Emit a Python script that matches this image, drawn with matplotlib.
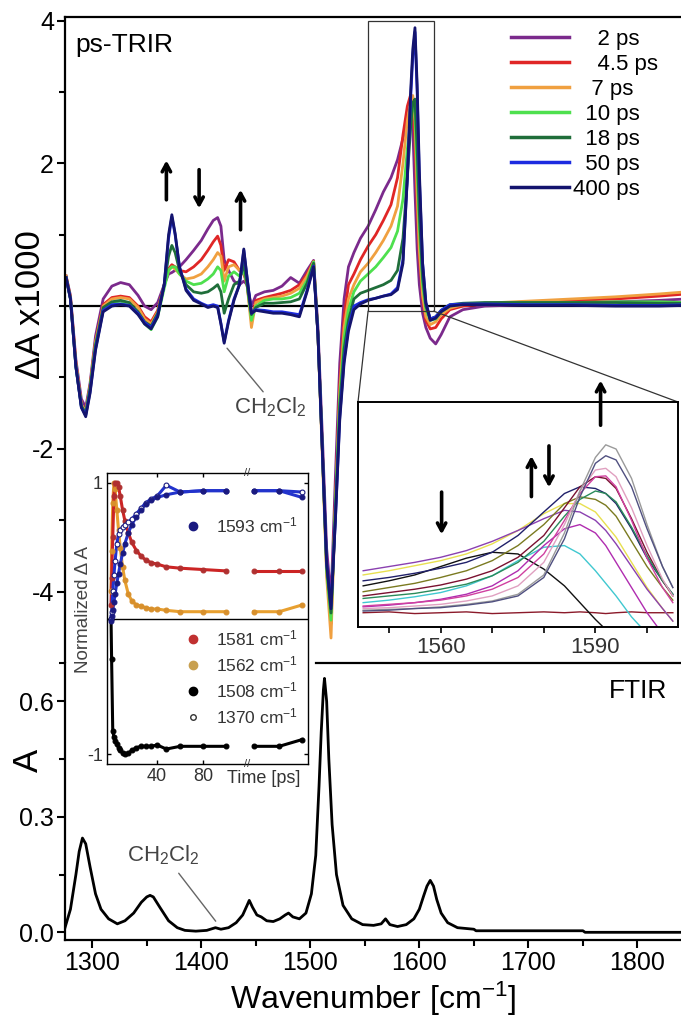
import numpy as np
import matplotlib
matplotlib.use("Agg")
import matplotlib.pyplot as plt
from matplotlib.lines import Line2D
from matplotlib.patches import Rectangle, ConnectionPatch
from matplotlib.ticker import FixedLocator, MultipleLocator
import matplotlib.transforms as mtransforms

plt.rcParams["font.family"] = ["Liberation Sans", "DejaVu Sans"]
plt.rcParams["mathtext.fontset"] = "custom"
plt.rcParams["mathtext.rm"] = "Liberation Sans"
plt.rcParams["mathtext.it"] = "Liberation Sans:italic"
plt.rcParams["mathtext.bf"] = "Liberation Sans:bold"
plt.rcParams["axes.unicode_minus"] = False

# ---- ps-TRIR spectra (Delta A x1000) ----
TRIR_WN = [1276, 1280, 1285, 1290, 1294, 1298, 1303, 1310, 1318, 1326, 1334, 1342, 1348, 1354, 1360, 1366,
           1370, 1373, 1376, 1380, 1386, 1393, 1400, 1406, 1411, 1415, 1418, 1421, 1425, 1430, 1435, 1439, 1442, 1446, 1450,
           1458, 1466, 1474, 1482, 1490, 1497, 1503,
           1507, 1511, 1515, 1519, 1523, 1527, 1531, 1535,
           1540, 1546, 1553, 1560, 1567, 1574, 1580, 1585,
           1589, 1592, 1594, 1596, 1598, 1600, 1603, 1606, 1610, 1615, 1620, 1628, 1640, 1660, 1700, 1740, 1780, 1820, 1845]

TRIR_2PS = [0.42, 0.15, -0.75, -1.30, -1.42, -1.08, -0.42, 0.10, 0.28, 0.33, 0.30, 0.15, 0.00, -0.05, 0.05, 0.30,
            0.45, 0.47, 0.50, 0.55, 0.65, 0.78, 0.92, 1.08, 1.20, 1.24, 1.12, 0.65, 0.50, 0.35, 0.30, 0.35, 0.30, 0.00, 0.15,
            0.20, 0.22, 0.28, 0.40, 0.32, 0.50, 0.64,
            -0.30, -1.80, -3.40, -4.10, -2.40, -0.80, 0.10, 0.55,
            0.75, 0.95, 1.12, 1.35, 1.60, 1.80, 2.05, 2.35,
            2.60, 2.78, 2.50, 1.60, 0.80, 0.30, -0.10, -0.30, -0.45, -0.53, -0.40, -0.15, -0.05, 0.00, 0.02, 0.04, 0.06, 0.08, 0.10]
TRIR_4P5PS = [0.42, 0.12, -0.80, -1.38, -1.48, -1.12, -0.50, 0.02, 0.12, 0.14, 0.12, 0.00, -0.15, -0.22, -0.06, 0.30,
              0.52, 0.58, 0.55, 0.50, 0.48, 0.55, 0.65, 0.78, 0.90, 0.98, 0.85, 0.50, 0.65, 0.62, 0.50, 0.45, 0.30, -0.20, 0.08,
              0.12, 0.15, 0.18, 0.22, 0.30, 0.45, 0.63,
              -0.40, -2.00, -3.70, -4.45, -2.70, -1.10, -0.15, 0.30,
              0.45, 0.65, 0.84, 1.00, 1.20, 1.42, 1.80, 2.40,
              2.80, 2.96, 2.90, 2.30, 1.40, 0.70, 0.10, -0.20, -0.32, -0.30, -0.18, -0.05, 0.00, 0.03, 0.06, 0.08, 0.10, 0.14, 0.17]
TRIR_7PS = [0.42, 0.12, -0.80, -1.38, -1.48, -1.12, -0.50, 0.00, 0.10, 0.12, 0.10, -0.02, -0.18, -0.25, -0.08, 0.30,
            0.50, 0.55, 0.52, 0.45, 0.38, 0.40, 0.45, 0.55, 0.65, 0.75, 0.70, 0.35, 0.55, 0.58, 0.50, 0.50, 0.30, -0.30, 0.05,
            0.10, 0.12, 0.14, 0.18, 0.25, 0.42, 0.62,
            -0.40, -2.10, -3.80, -4.65, -2.80, -1.20, -0.30, 0.10,
            0.30, 0.48, 0.60, 0.75, 0.92, 1.12, 1.40, 2.00,
            2.60, 2.85, 2.95, 2.60, 1.60, 0.80, 0.15, -0.15, -0.26, -0.22, -0.12, -0.03, 0.02, 0.04, 0.07, 0.10, 0.13, 0.17, 0.20]
TRIR_10PS = [0.40, 0.10, -0.85, -1.40, -1.50, -1.15, -0.55, -0.05, 0.05, 0.07, 0.02, -0.10, -0.25, -0.33, -0.15, 0.25,
             0.50, 0.55, 0.55, 0.45, 0.35, 0.30, 0.32, 0.38, 0.45, 0.55, 0.50, 0.20, 0.42, 0.48, 0.42, 0.50, 0.30, -0.20, 0.00,
             0.08, 0.10, 0.10, 0.12, 0.18, 0.36, 0.62,
             -0.40, -2.00, -3.70, -4.40, -2.80, -1.30, -0.45, -0.05,
             0.20, 0.35, 0.45, 0.55, 0.68, 0.82, 1.05, 1.50,
             2.20, 2.60, 2.85, 2.70, 1.90, 1.10, 0.30, -0.05, -0.20, -0.18, -0.08, 0.00, 0.03, 0.04, 0.05, 0.05, 0.06, 0.06, 0.05]
TRIR_18PS = [0.40, 0.10, -0.85, -1.40, -1.50, -1.15, -0.55, -0.02, 0.06, 0.08, 0.05, -0.08, -0.22, -0.28, -0.10, 0.30,
             0.70, 0.85, 0.75, 0.50, 0.30, 0.20, 0.18, 0.20, 0.25, 0.30, 0.20, -0.10, 0.10, 0.30, 0.35, 0.60, 0.30, -0.12, -0.02,
             0.04, 0.04, 0.05, 0.06, 0.10, 0.32, 0.60,
             -0.40, -2.00, -3.65, -4.30, -2.90, -1.40, -0.60, -0.20,
             0.10, 0.18, 0.22, 0.26, 0.30, 0.36, 0.50, 0.95,
             1.80, 2.50, 2.85, 2.90, 2.20, 1.30, 0.40, 0.00, -0.18, -0.15, -0.06, 0.02, 0.04, 0.05, 0.05, 0.05, 0.05, 0.04, 0.04]
TRIR_50PS = [0.40, 0.10, -0.85, -1.42, -1.53, -1.20, -0.60, -0.06, 0.02, 0.03, 0.01, -0.10, -0.23, -0.30, -0.13, 0.30,
             0.95, 1.25, 1.00, 0.55, 0.24, 0.10, 0.04, 0.00, 0.02, 0.00, -0.24, -0.50, -0.20, 0.10, 0.30, 0.78, 0.40, -0.10, -0.05,
             -0.06, -0.08, -0.08, -0.10, -0.12, 0.22, 0.56,
             -0.40, -2.00, -3.60, -4.20, -3.00, -1.55, -0.75, -0.30,
             0.00, 0.05, 0.09, 0.11, 0.14, 0.17, 0.26, 0.65,
             1.80, 2.90, 3.50, 3.84, 3.00, 1.80, 0.60, 0.05, -0.18, -0.15, -0.06, 0.02, 0.03, 0.03, 0.02, 0.02, 0.01, 0.01, 0.02]
TRIR_400PS = [0.40, 0.10, -0.85, -1.42, -1.55, -1.22, -0.62, -0.08, 0.00, 0.02, 0.00, -0.12, -0.25, -0.32, -0.15, 0.30,
              1.00, 1.28, 1.02, 0.55, 0.22, 0.08, 0.03, -0.02, 0.00, -0.02, -0.25, -0.52, -0.22, 0.08, 0.30, 0.80, 0.40, -0.10, -0.06,
              -0.08, -0.10, -0.10, -0.12, -0.15, 0.20, 0.55,
              -0.40, -2.00, -3.60, -4.24, -3.00, -1.60, -0.80, -0.35,
              -0.05, 0.03, 0.08, 0.11, 0.14, 0.16, 0.23, 0.60,
              1.80, 3.00, 3.60, 3.90, 3.10, 1.90, 0.60, 0.05, -0.20, -0.17, -0.08, 0.00, 0.02, 0.02, 0.01, 0.01, 0.00, 0.00, 0.01]

TRIR_LABELS = ["    2 ps", "    4.5 ps", "   7 ps", "  10 ps", "  18 ps", "  50 ps", "400 ps"]
TRIR_COLORS = ["#7b2a8c", "#e02626", "#f0a040", "#4ee04e", "#1f6e3a", "#1c2be0", "#14146e"]

# ---- FTIR absorbance ----
FTIR_WN = [1275, 1280, 1285, 1288, 1291, 1294, 1298, 1303, 1308, 1315,
           1323, 1330, 1338, 1345, 1350, 1353, 1356, 1362, 1370, 1378,
           1385, 1395, 1405, 1413, 1418, 1425, 1432, 1438, 1442, 1444,
           1447, 1451, 1455, 1460, 1466, 1472, 1477, 1480, 1484, 1490,
           1496, 1501, 1505, 1508, 1510, 1512, 1513, 1515, 1517, 1520,
           1524, 1530, 1538, 1548, 1558, 1565, 1569, 1573, 1580, 1588,
           1595, 1600, 1604, 1607, 1610, 1613, 1616, 1620, 1626, 1635,
           1650, 1652, 1700, 1750, 1752, 1845]
FTIR_A = [0.012, 0.06, 0.15, 0.21, 0.245, 0.23, 0.17, 0.10, 0.06, 0.035,
          0.022, 0.03, 0.05, 0.078, 0.092, 0.096, 0.092, 0.065, 0.03, 0.012,
          0.005, 0.003, 0.005, 0.012, 0.008, 0.012, 0.025, 0.045, 0.07, 0.083,
          0.065, 0.045, 0.04, 0.03, 0.028, 0.035, 0.045, 0.05, 0.04, 0.035,
          0.05, 0.10, 0.20, 0.38, 0.52, 0.63, 0.66, 0.60, 0.45, 0.28,
          0.15, 0.07, 0.035, 0.02, 0.018, 0.022, 0.035, 0.02, 0.015, 0.02,
          0.035, 0.06, 0.095, 0.12, 0.135, 0.12, 0.085, 0.05, 0.025, 0.012,
          0.008, 0.004, 0.004, 0.004, 0.0, 0.0]

# ---- zoomed spectra (1545-1605 cm-1) ----
ZOOM_WN = [1545, 1550, 1555, 1560, 1565, 1570, 1575, 1580, 1584, 1587, 1590, 1592, 1594, 1597, 1600, 1603, 1605]
ZOOM_BLACK = [0.32, 0.38, 0.45, 0.55, 0.65, 0.72, 0.70, 0.52, 0.32, 0.12, -0.08, -0.20, -0.30, -0.30, -0.30, -0.30, -0.30]
ZOOM_CYAN = [0.12, 0.15, 0.19, 0.24, 0.32, 0.44, 0.62, 0.78, 0.80, 0.70, 0.50, 0.35, 0.20, -0.05, -0.25, -0.30, -0.30]
ZOOM_MAGENTA = [0.07, 0.09, 0.12, 0.16, 0.22, 0.32, 0.50, 0.80, 1.00, 1.05, 0.95, 0.80, 0.60, 0.30, 0.00, -0.25, -0.30]
ZOOM_YELLOW = [0.45, 0.50, 0.56, 0.62, 0.70, 0.82, 0.98, 1.18, 1.30, 1.30, 1.20, 1.05, 0.90, 0.60, 0.30, 0.05, -0.10]
ZOOM_PURPLE = [0.50, 0.55, 0.60, 0.66, 0.74, 0.85, 0.98, 1.12, 1.22, 1.20, 1.10, 0.98, 0.82, 0.55, 0.28, 0.05, -0.10]
ZOOM_OLIVE = [0.25, 0.30, 0.35, 0.42, 0.50, 0.62, 0.80, 1.05, 1.30, 1.38, 1.35, 1.28, 1.15, 0.85, 0.55, 0.30, 0.15]
ZOOM_NAVY = [0.38, 0.42, 0.47, 0.53, 0.60, 0.72, 0.92, 1.20, 1.42, 1.50, 1.48, 1.42, 1.30, 1.00, 0.65, 0.38, 0.22]
ZOOM_MAROON = [0.20, 0.24, 0.28, 0.33, 0.40, 0.50, 0.66, 0.92, 1.25, 1.50, 1.62, 1.60, 1.48, 1.12, 0.72, 0.38, 0.20]
ZOOM_GREEN = [0.17, 0.20, 0.23, 0.28, 0.34, 0.44, 0.60, 0.85, 1.15, 1.35, 1.45, 1.42, 1.32, 1.02, 0.68, 0.38, 0.22]
ZOOM_PINK = [0.08, 0.10, 0.12, 0.15, 0.20, 0.28, 0.42, 0.70, 1.10, 1.42, 1.62, 1.63, 1.50, 1.10, 0.65, 0.30, 0.12]
ZOOM_ROSE = [0.05, 0.06, 0.08, 0.10, 0.14, 0.20, 0.32, 0.60, 1.05, 1.45, 1.70, 1.72, 1.62, 1.25, 0.80, 0.40, 0.20]
ZOOM_GRAY = [0.03, 0.04, 0.05, 0.07, 0.10, 0.14, 0.22, 0.45, 0.95, 1.45, 1.85, 2.00, 1.95, 1.60, 1.05, 0.55, 0.30]
ZOOM_SLATE = [0.02, 0.03, 0.05, 0.06, 0.09, 0.13, 0.20, 0.42, 0.88, 1.38, 1.78, 1.87, 1.82, 1.50, 1.00, 0.55, 0.30]
ZOOM_BASE = [0.00, 0.01, -0.01, 0.00, 0.01, -0.01, 0.00, 0.01, 0.00, 0.01, 0.00, -0.01, 0.00, 0.01, 0.00, 0.00, 0.00]

# ---- kinetics (normalized Delta A) ----
KIN_T = [0, 0.5, 1.5, 2.5, 3.5, 5, 6.5, 8, 10, 12, 15, 18, 22, 26, 30, 35, 40, 48, 60, 80, 100, 140, 250, 350]
KIN_1593 = [-0.02, 0.02, 0.06, 0.12, 0.18, 0.26, 0.33, 0.40, 0.48, 0.55, 0.63, 0.69, 0.75, 0.80, 0.84, 0.87,
            0.89, 0.91, 0.93, 0.94, 0.94, 0.94, 0.94, 0.89]
KIN_1370 = [0.0, 0.05, 0.20, 0.32, 0.42, 0.55, 0.62, 0.65, 0.67, 0.69, 0.71, 0.73, 0.77, 0.81, 0.85, 0.88,
            0.90, 0.98, 0.93, 0.94, 0.94, 0.94, 0.94, 0.93]
KIN_1581 = [0.1, 0.3, 0.6, 0.9, 1.0, 1.0, 0.97, 0.9, 0.8, 0.72, 0.63, 0.56, 0.5, 0.46, 0.43, 0.41,
            0.4, 0.38, 0.37, 0.36, 0.35, 0.35, 0.35, 0.35]
KIN_1562 = [0.2, 0.5, 0.85, 1.0, 0.95, 0.8, 0.65, 0.52, 0.38, 0.28, 0.18, 0.13, 0.1, 0.09, 0.08, 0.07,
            0.07, 0.06, 0.05, 0.05, 0.05, 0.05, 0.05, 0.1]
KIN_1508 = [0.0, -0.3, -0.83, -0.87, -0.9, -0.92, -0.95, -0.97, -0.99, -1.0, -0.99, -0.97, -0.95, -0.94, -0.94, -0.94,
            -0.93, -0.96, -0.94, -0.94, -0.94, -0.94, -0.94, -0.89]

W, H = 681, 1025


def box(x0, y0, x1, y1):
    # pixel box (top-left origin) -> figure-fraction rect
    return [x0 / W, 1 - y1 / H, (x1 - x0) / W, (y1 - y0) / H]


def t_fwd(t):
    t = np.asarray(t, dtype=float)
    return np.where(t <= 120, t, 120 + (t - 120) * 0.2)


def t_inv(d):
    d = np.asarray(d, dtype=float)
    return np.where(d <= 120, d, 120 + (d - 120) / 0.2)


fig = plt.figure(figsize=(W / 100, H / 100), dpi=100)
ax_top = fig.add_axes(box(65, 17, 681, 663))
ax_ft = fig.add_axes(box(65, 663, 681, 940), sharex=ax_top)
ax_kin = fig.add_axes(box(107, 473, 308, 764), zorder=5)
ax_zoom = fig.add_axes(box(358, 402, 678, 627), zorder=5)

# ---------------- top: ps-TRIR ----------------
ax_top.axhline(0, color="black", lw=1.6, zorder=1)
trir_series = [TRIR_2PS, TRIR_4P5PS, TRIR_7PS, TRIR_10PS, TRIR_18PS, TRIR_50PS, TRIR_400PS]
for vals, color in zip(trir_series, TRIR_COLORS):
    ax_top.plot(TRIR_WN, vals, color=color, lw=2.0, zorder=2)

ax_top.set_xlim(1275, 1840)
ax_top.set_ylim(-5, 4.05)
for side in ("right", "bottom"):
    ax_top.spines[side].set_visible(False)
for side in ("left", "top"):
    ax_top.spines[side].set_linewidth(1.6)
ax_top.yaxis.set_major_locator(FixedLocator([-4, -2, 2, 4]))
ax_top.yaxis.set_minor_locator(FixedLocator([-5, -3, -1, 0, 1, 3]))
ax_top.tick_params(axis="x", which="both", bottom=False, labelbottom=False)
ax_top.tick_params(axis="y", which="major", direction="out", length=6, width=1.5, labelsize=18, pad=2)
ax_top.tick_params(axis="y", which="minor", direction="out", length=4, width=1.5)

handles = [Line2D([], [], color=c, lw=2.5) for c in TRIR_COLORS]
ax_top.legend(handles, TRIR_LABELS, loc="upper left", bbox_to_anchor=(0.71, 0.995), frameon=False,
              fontsize=16, handlelength=2.6, handletextpad=0.2, labelspacing=0.18, borderaxespad=0)

ax_top.text(0.016, 0.957, "ps-TRIR", transform=ax_top.transAxes, fontsize=19, ha="left", va="center")

arrow_kw = dict(arrowstyle="->,head_length=0.55,head_width=0.3", lw=2.6, color="black")
ax_top.annotate("", xy=(1368, 2.08), xytext=(1368, 1.45), arrowprops=arrow_kw)
ax_top.annotate("", xy=(1398, 1.33), xytext=(1398, 1.95), arrowprops=arrow_kw)
ax_top.annotate("", xy=(1436, 1.67), xytext=(1436, 1.03), arrowprops=arrow_kw)

ax_top.annotate("CH$_2$Cl$_2$", xy=(1422, -0.56), xytext=(1463, -1.42), fontsize=16, color="#444444",
                ha="center", va="center",
                arrowprops=dict(arrowstyle="-", color="#666666", lw=1.0, relpos=(0.45, 1.0), shrinkA=1, shrinkB=2))

ax_top.add_patch(Rectangle((1553, -0.07), 60, 4.06, fill=False, lw=0.9, edgecolor="#333333", zorder=3))

# ---------------- bottom: FTIR ----------------
ax_ft.plot(FTIR_WN, FTIR_A, color="black", lw=2.0)
ax_ft.set_ylim(-0.02, 0.70)
ax_ft.spines["right"].set_visible(False)
ax_ft.spines["top"].set_bounds(1505, 1840)
for side in ("left", "top", "bottom"):
    ax_ft.spines[side].set_linewidth(1.6)
ax_ft.yaxis.set_major_locator(FixedLocator([0.0, 0.3, 0.6]))
ax_ft.set_yticklabels(["0.0", "0.3", "0.6"])
ax_ft.yaxis.set_minor_locator(FixedLocator([0.15, 0.45]))
ax_ft.xaxis.set_major_locator(MultipleLocator(100))
ax_ft.xaxis.set_minor_locator(MultipleLocator(50))
ax_ft.tick_params(which="major", direction="out", length=6, width=1.5, labelsize=18, pad=2)
ax_ft.tick_params(which="minor", direction="out", length=4, width=1.5)
ax_ft.set_xlabel("Wavenumber [cm$^{-1}$]", fontsize=23, labelpad=3)
ax_ft.text(0.93, 0.90, "FTIR", transform=ax_ft.transAxes, fontsize=19, ha="center", va="center")
ax_ft.annotate("CH$_2$Cl$_2$", xy=(1414, 0.026), xytext=(1365, 0.2), fontsize=16, color="#444444",
               ha="center", va="center",
               arrowprops=dict(arrowstyle="-", color="#666666", lw=1.0, relpos=(0.65, 0.0), shrinkA=3, shrinkB=1))

fig.text(30 / W, 1 - 305 / H, "\u0394A x1000", rotation=90, fontsize=25, ha="center", va="center")
fig.text(28 / W, 1 - 760 / H, "A", rotation=90, fontsize=25, ha="center", va="center")

# ---------------- inset: zoomed spectra ----------------
zoom_series = [ZOOM_BASE, ZOOM_BLACK, ZOOM_CYAN, ZOOM_MAGENTA, ZOOM_YELLOW, ZOOM_PURPLE, ZOOM_OLIVE,
               ZOOM_NAVY, ZOOM_MAROON, ZOOM_GREEN, ZOOM_PINK, ZOOM_ROSE, ZOOM_GRAY, ZOOM_SLATE]
zoom_colors = ["#8b1a2a", "#111111", "#40c8d0", "#b02cb0", "#e8e050", "#8a40b0", "#7a7a20",
               "#20206a", "#7a1030", "#2a8a5a", "#d040a0", "#e0a0c0", "#9a9a9a", "#505080"]
for vals, color in zip(zoom_series, zoom_colors):
    ax_zoom.plot(ZOOM_WN, vals, color=color, lw=1.0)
ax_zoom.set_xlim(1544, 1606)
ax_zoom.set_ylim(-0.17, 2.51)
for sp in ax_zoom.spines.values():
    sp.set_linewidth(1.4)
ax_zoom.set_yticks([])
ax_zoom.set_xticks([1550, 1560, 1570, 1580, 1590, 1600])
ax_zoom.set_xticklabels(["", "1560", "", "", "1590", ""])
ax_zoom.tick_params(axis="x", direction="out", length=4, width=1.2, labelsize=16, labelcolor="#333333", pad=3)

ax_zoom.annotate("", xy=(1560.2, 0.9), xytext=(1560.2, 1.47), arrowprops=arrow_kw)
ax_zoom.annotate("", xy=(1577.6, 1.9), xytext=(1577.6, 1.35), arrowprops=arrow_kw)
ax_zoom.annotate("", xy=(1581, 1.46), xytext=(1581, 2.02), arrowprops=arrow_kw)
ax_zoom.annotate("", xy=(1591, 2.8), xytext=(1591, 2.2), arrowprops=arrow_kw, annotation_clip=False)

for xa, xb in ((0, 1553), (1, 1613)):
    con = ConnectionPatch(xyA=(xa, 1), coordsA=ax_zoom.transAxes, xyB=(xb, -0.07), coordsB=ax_top.transData,
                          color="#333333", lw=0.9)
    fig.add_artist(con)

# ---------------- inset: kinetics ----------------
ax_kin.set_xscale("function", functions=(t_fwd, t_inv))
t = np.array(KIN_T, dtype=float)
early = t <= 110
late = t >= 130
kin_specs = [
    (KIN_1562, "#e8a030", dict(mfc="#d8902c", mec="#d8902c")),
    (KIN_1581, "#cc2424", dict(mfc="#b03030", mec="#b03030")),
    (KIN_1508, "#000000", dict(mfc="#000000", mec="#000000")),
    (KIN_1370, "#2233cc", dict(mfc="white", mec="#1a1a80")),
    (KIN_1593, "#2233cc", dict(mfc="#1a1a80", mec="#1a1a80")),
]
for vals, lcol, mk in kin_specs:
    v = np.array(vals, dtype=float)
    for m in (early, late):
        ax_kin.plot(t[m], v[m], color=lcol, lw=2.2, zorder=2)
        ax_kin.plot(t[m], v[m], ls="none", marker="o", ms=3.5, mew=0.8,
                    mfc=mk["mfc"], mec=mk["mec"], zorder=3)
ax_kin.axhline(0, color="black", lw=1.0, zorder=1)
ax_kin.set_xlim(-3.5, 375)
ax_kin.set_ylim(-1.07, 1.07)
for sp in ax_kin.spines.values():
    sp.set_linewidth(1.0)
ax_kin.xaxis.set_major_locator(FixedLocator([40, 80]))
ax_kin.xaxis.set_minor_locator(FixedLocator([]))
ax_kin.yaxis.set_major_locator(FixedLocator([-1, 1]))
ax_kin.set_yticklabels(["-1", "1"])
ax_kin.tick_params(direction="in", length=3, width=1.0, top=True, right=True, labelsize=13,
                   labelcolor="#333333", pad=3)
ax_kin.set_ylabel("Normalized \u0394 A", fontsize=13.5, color="#444444")
ax_kin.yaxis.set_label_coords(-0.075, 0.53)
ax_kin.text(0.78, -0.022, "Time [ps]", transform=ax_kin.transAxes, fontsize=13, color="#333333",
            ha="center", va="top")
brk = mtransforms.blended_transform_factory(ax_kin.transData, ax_kin.transAxes)
for yb in (1.0, 0.0):
    ax_kin.text(118, yb, "//", transform=brk, fontsize=8, ha="center", va="center", color="#333333")

leg1 = ax_kin.legend([Line2D([], [], ls="none", marker="o", ms=6, color="#1a1a80")], ["1593 cm$^{-1}$"],
                     loc="center left", bbox_to_anchor=(0.35, 0.82), frameon=False, fontsize=12.5,
                     handlelength=1.0, handletextpad=0.8, borderaxespad=0, labelcolor="#333333")
ax_kin.add_artist(leg1)
h2 = [Line2D([], [], ls="none", marker="o", ms=6, color="#c03030"),
      Line2D([], [], ls="none", marker="o", ms=6, color="#c8a050"),
      Line2D([], [], ls="none", marker="o", ms=6, color="#000000"),
      Line2D([], [], ls="none", marker="o", ms=4, mfc="white", mec="#333333")]
ax_kin.legend(h2, ["1581 cm$^{-1}$", "1562 cm$^{-1}$", "1508 cm$^{-1}$", "1370 cm$^{-1}$"],
              loc="upper left", bbox_to_anchor=(0.35, 0.49), frameon=False, fontsize=12.5,
              handlelength=1.0, handletextpad=0.8, labelspacing=0.35, borderaxespad=0, labelcolor="#333333")

fig.savefig("out.png", dpi=100)
